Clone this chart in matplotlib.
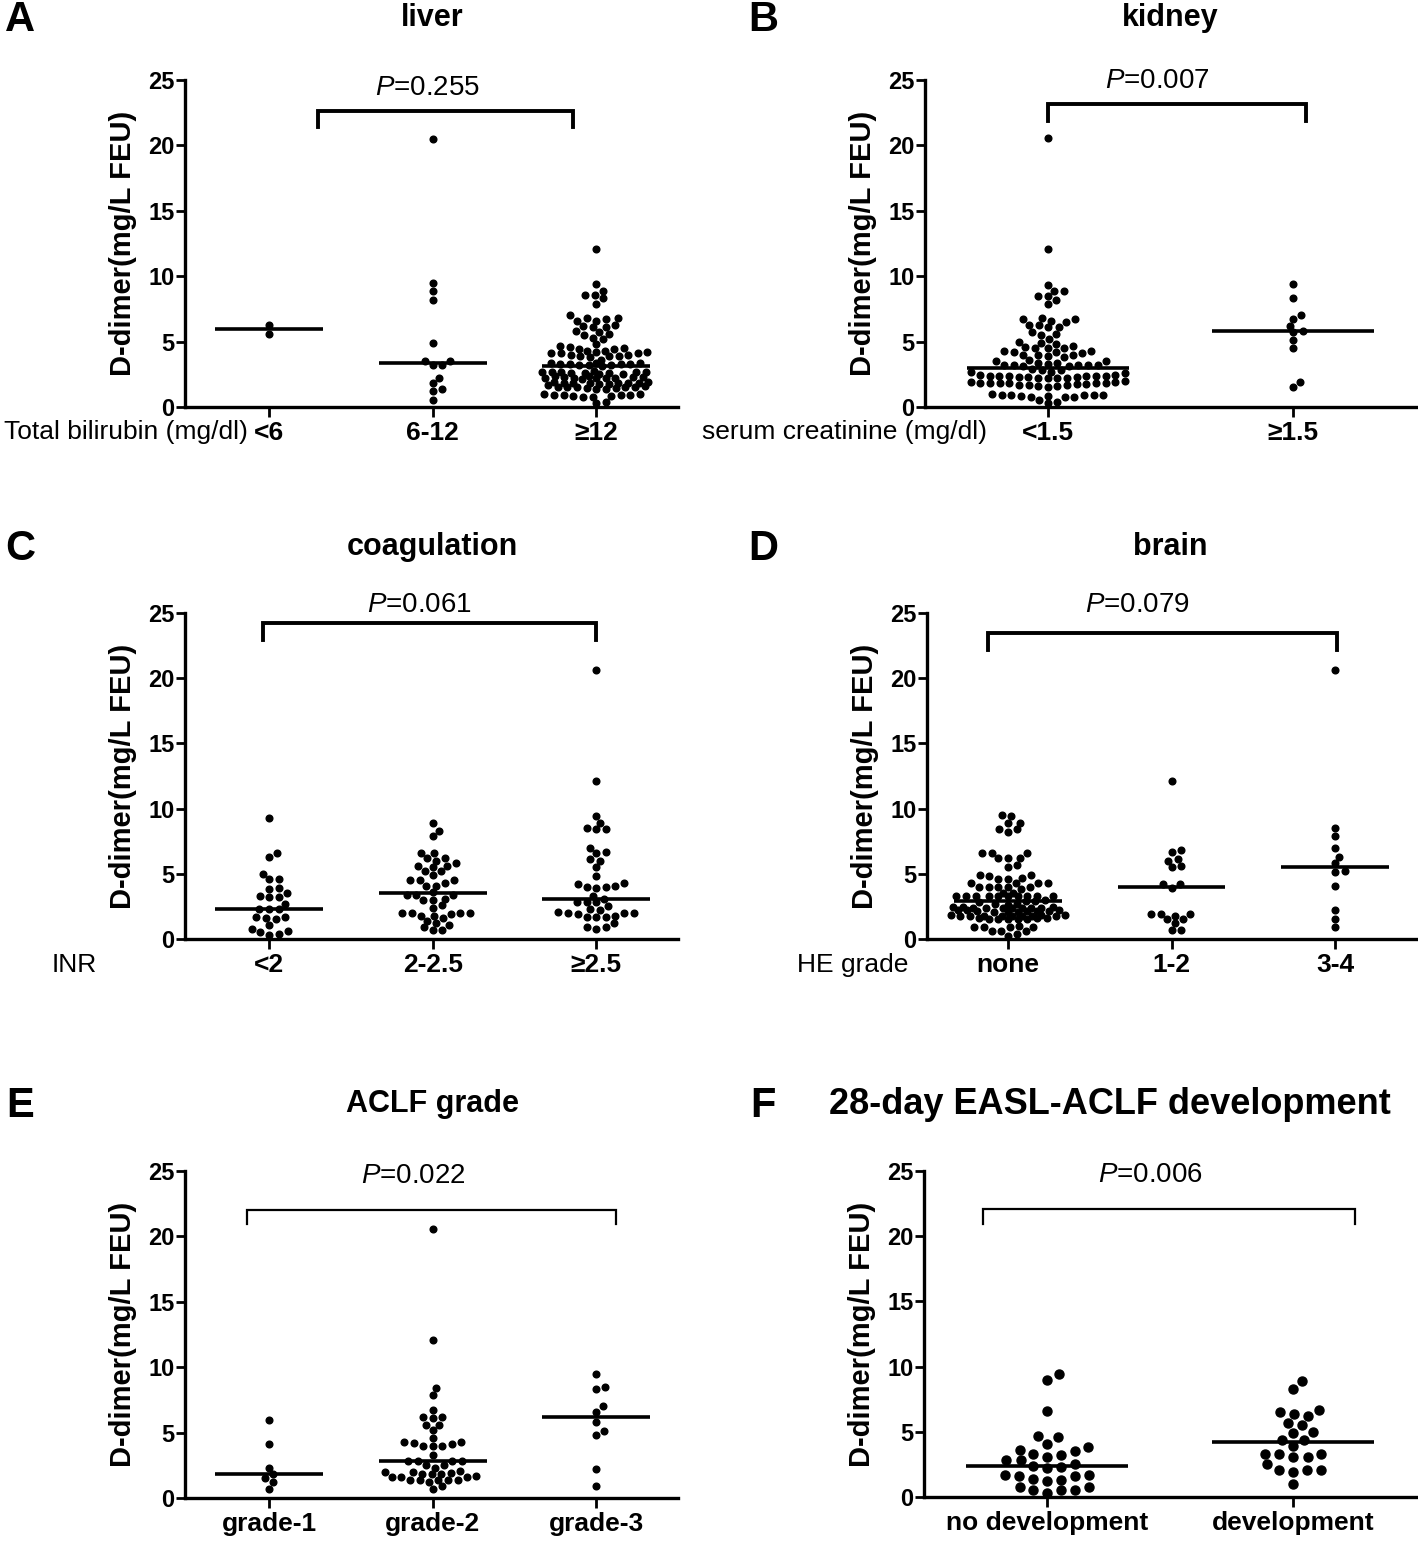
import numpy as np
import matplotlib
matplotlib.use("Agg")
import matplotlib.pyplot as plt
from matplotlib import font_manager

# ---------------------------------------------------------------- data
# D-dimer (mg/L FEU), one value per patient
liver_cats = ["<6", "6-12", "\u226512"]
liver_lo = [6.3, 5.6]
liver_mid = [20.5, 9.5, 8.9, 8.2, 4.9, 3.5, 3.5, 3.2, 3.2, 2.2, 1.8, 1.4, 1.2, 0.5]
liver_hi = [12.1, 9.4, 8.9, 8.6, 8.6, 8.3, 7.9, 7.0,
            6.8, 6.8, 6.7, 6.6, 6.6,
            6.3, 6.2, 6.1, 6.1, 5.8, 5.7, 5.6, 5.5, 5.3, 5.2,
            4.8, 4.7, 4.6, 4.5, 4.4, 4.4, 4.3, 4.3,
            4.2, 4.2, 4.1, 4.1, 4.1, 4.0, 4.0, 3.9, 3.9, 3.9, 3.8, 3.6,
            3.4, 3.4, 3.4, 3.3, 3.3, 3.3, 3.3, 3.2, 3.2, 3.2, 3.1,
            2.75, 2.7, 2.7, 2.7, 2.65, 2.65, 2.6, 2.6, 2.6, 2.55, 2.55,
            2.35, 2.35, 2.3, 2.3, 2.3, 2.25, 2.25, 2.2, 2.2, 2.2, 2.15,
            1.9, 1.9, 1.85, 1.85, 1.85, 1.8, 1.8, 1.8, 1.75, 1.75, 1.7,
            1.6, 1.55, 1.55, 1.5, 1.5, 1.5, 1.45, 1.45, 1.4, 1.4,
            1.0, 1.0, 0.95, 0.95, 0.9, 0.9, 0.85, 0.85, 0.8, 0.8,
            0.4, 0.3]
liver_med = [6.0, 3.35, 3.1]

kidney_cats = ["<1.5", "\u22651.5"]
kidney_lo = [20.6, 12.1,
             9.3, 8.9, 8.9, 8.5, 8.5, 8.2, 7.9,
             6.8, 6.7, 6.7, 6.6, 6.5, 6.3, 6.3, 6.1, 6.1,
             5.7, 5.6, 5.5, 5.2,
             5.0, 4.9, 4.8, 4.7, 4.6, 4.5, 4.5, 4.5,
             4.3, 4.3, 4.2, 4.2, 4.1, 4.0, 4.0, 4.0, 3.9, 3.8, 3.6,
             3.5, 3.5, 3.4, 3.4, 3.3, 3.2, 3.2, 3.2, 3.2, 3.2, 3.1, 3.1,
             2.9, 2.8, 2.8, 2.7, 2.7, 2.6,
             2.45, 2.45, 2.4, 2.4, 2.4, 2.35, 2.35, 2.35, 2.3, 2.3, 2.3, 2.25, 2.25, 2.25, 2.2,
             1.95, 1.9, 1.9, 1.85, 1.85, 1.85, 1.8, 1.8, 1.8, 1.75, 1.75, 1.7, 1.7, 1.65, 1.6, 1.6, 1.55,
             1.0, 0.95, 0.95, 0.9, 0.9, 0.9, 0.85, 0.85, 0.8, 0.8, 0.75,
             0.5, 0.4, 0.3]
kidney_hi = [9.4, 8.3, 7.0, 6.7, 6.2, 5.8, 5.7, 5.1, 4.5, 1.9, 1.5]
kidney_med = [3.0, 5.8]

coag_cats = ["<2", "2-2.5", "\u22652.5"]
coag_lo = [9.3, 6.6, 6.3, 5.0, 4.6, 4.6, 3.9, 3.8, 3.5, 3.3, 3.2, 3.2, 2.7,
           2.3, 2.3, 2.3, 1.7, 1.7, 1.6, 1.5, 1.1, 0.8, 0.6, 0.5, 0.4, 0.3]
coag_mid = [8.9, 8.3, 7.9, 6.6, 6.6, 6.2, 6.2, 6.0, 5.8, 5.6, 5.6, 5.5, 5.2, 5.2, 4.9,
            4.5, 4.5, 4.5, 4.3, 4.1, 4.1, 3.6, 3.4, 3.4, 3.4, 3.1, 3.0, 3.0,
            2.6, 2.4, 2.0, 2.0, 2.0, 2.0, 1.9, 1.8, 1.8, 1.6, 1.4, 1.2, 1.1, 0.9, 0.7, 0.7]
coag_hi = [20.6, 12.1, 9.4, 8.9, 8.5, 8.4, 8.4, 7.0, 6.7, 6.6, 6.1, 6.0, 5.5,
           4.8, 4.3, 4.2, 4.1, 4.0, 4.0, 3.9, 3.3, 3.1, 2.8, 2.8, 2.8, 2.5,
           2.3, 2.2, 2.1, 2.0, 2.0, 2.0, 1.9, 1.8, 1.7, 1.7, 1.7, 1.2, 0.95, 0.9, 0.8]
coag_med = [2.3, 3.5, 3.1]

brain_cats = ["none", "1-2", "3-4"]
brain_none = [9.5, 9.4, 8.9, 8.9, 8.4, 8.4, 8.2,
              6.6, 6.6, 6.6, 6.2, 6.2, 6.2, 5.7, 5.5,
              4.9, 4.9, 4.8, 4.7, 4.6, 4.6, 4.3, 4.3, 4.3, 4.3, 4.0, 4.0, 4.0, 4.0, 4.0, 3.8,
              3.5, 3.5, 3.3, 3.3, 3.3, 3.3, 3.3, 3.3, 3.3, 3.3, 3.3, 3.3,
              3.0, 2.9, 2.9, 2.8, 2.7, 2.7, 2.6,
              2.45, 2.45, 2.45, 2.4, 2.4, 2.4, 2.4, 2.4, 2.35, 2.35,
              2.2, 2.2, 2.2, 2.15, 2.15, 2.15, 2.15, 2.1, 2.1, 2.1,
              1.85, 1.85, 1.85, 1.8, 1.8, 1.8, 1.8, 1.8, 1.75, 1.75, 1.75,
              1.6, 1.6, 1.6, 1.55, 1.55, 1.55, 1.5, 1.5,
              1.0, 0.95, 0.95, 0.9, 0.9,
              0.6, 0.6, 0.6, 0.4, 0.2]
brain_12 = [12.1, 6.8, 6.7, 6.1, 6.0, 5.6, 5.5, 4.2, 4.2, 3.9,
            1.9, 1.9, 1.9, 1.8, 1.5, 1.5, 1.2, 0.7, 0.7]
brain_34 = [20.6, 8.5, 7.9, 7.0, 6.3, 5.8, 5.2, 5.1, 4.1, 2.2, 1.5, 0.9]
brain_med = [2.95, 3.95, 5.5]

aclf_cats = ["grade-1", "grade-2", "grade-3"]
aclf_g1 = [6.0, 4.1, 2.3, 1.8, 1.5, 1.2, 0.7]
aclf_g2 = [20.6, 12.1, 8.4, 7.9, 6.7, 6.2, 6.2, 6.1, 5.6, 5.6, 5.2, 4.6, 4.3, 4.3, 4.2,
           4.1, 4.0, 4.0, 4.0, 3.3, 2.8, 2.8, 2.8, 2.8, 2.5, 2.5, 2.3, 2.1, 2.0, 2.0,
           1.9, 1.8, 1.8, 1.8, 1.7, 1.6, 1.6, 1.6, 1.4, 1.4, 1.4, 1.4, 1.4, 1.2, 0.9, 0.7]
aclf_g3 = [9.5, 8.5, 8.3, 7.0, 6.6, 5.8, 5.1, 4.8, 2.2, 0.9]
aclf_med = [1.85, 2.85, 6.2]

dev_cats = ["no development", "development"]
dev_no = [9.4, 9.0, 6.6, 4.7, 4.6, 4.1, 3.8, 3.6, 3.5, 3.3, 3.2, 3.1, 2.8, 2.8, 2.5, 2.4,
          2.3, 2.2, 1.7, 1.7, 1.6, 1.6, 1.4, 1.3, 1.2, 0.8, 0.8, 0.5, 0.5, 0.5, 0.3]
dev_yes = [8.9, 8.3, 6.7, 6.5, 6.4, 6.2, 5.7, 5.5, 5.0, 4.9, 4.4, 4.4, 3.9,
           3.3, 3.3, 3.3, 3.1, 3.1, 2.5, 2.1, 2.1, 2.1, 1.9, 1.0]
dev_med = [2.4, 4.2]

p_values = ["0.255", "0.007", "0.061", "0.079", "0.022", "0.006"]

# ---------------------------------------------------------------- fonts
names = {f.name for f in font_manager.fontManager.ttflist}
SANS = "Liberation Sans" if "Liberation Sans" in names else "DejaVu Sans"
NARROW = "Liberation Sans Narrow" if "Liberation Sans Narrow" in names else SANS
plt.rcParams["font.family"] = [SANS, "DejaVu Sans"]
plt.rcParams["mathtext.fontset"] = "custom"
plt.rcParams["mathtext.it"] = NARROW + ":italic"
plt.rcParams["mathtext.rm"] = NARROW

W, H = 1418, 1541
fig = plt.figure(figsize=(W / 100, H / 100), dpi=100)


def ftext(x, y, s, **kw):
    fig.text(x / W, 1 - y / H, s, **kw)


def need(dy, fp):
    dx_min, dy_min, d_min = fp
    r = 0.0
    if abs(dy) < dy_min:
        r = dx_min * np.sqrt(1 - (dy / dy_min) ** 2)
    if abs(dy) < d_min:
        r = max(r, np.sqrt(d_min ** 2 - dy ** 2))
    return r


def best_spot(y, placed, fp):
    near = [(px, need(py - y, fp)) for px, py in placed]
    near = [(px, r) for px, r in near if r > 0]
    cands = [0.0]
    for px, r in near:
        cands += [px + r, px - r]
    cands.sort(key=lambda c: (round(abs(c), 6), -c))
    for c in cands:
        if all(abs(c - px) >= r - 1e-6 for px, r in near):
            return c
    return 0.0


def swarm(vals, loose, tight, cap, sx, sy):
    # beeswarm: loose footprint while the row stays within the column width,
    # tighter (staggered) footprint where the points are crowded
    vals = np.asarray(vals, float)
    ys = vals * sy
    xs = np.zeros(len(vals))
    placed = []
    for i in np.argsort(vals, kind="stable"):
        c = best_spot(ys[i], placed, loose)
        if abs(c) > cap:
            c = best_spot(ys[i], placed, tight)
        xs[i] = c
        placed.append((c, ys[i]))
    return xs / sx


def panel(box, groups, meds, cats, xlim, pval, ptxt_xy, bracket, blw, ms, fps, caps):
    left, top, right, bottom = box
    ax = fig.add_axes([left / W, 1 - bottom / H, (right - left) / W, (bottom - top) / H])
    ax.set_xlim(*xlim)
    ax.set_ylim(0, 25)
    sx = (right - left) / (xlim[1] - xlim[0])
    sy = (bottom - top) / 25.0
    for i, vals in enumerate(groups):
        off = swarm(vals, fps[0], fps[1], caps[i], sx, sy)
        ax.plot(i + off, vals, "o", ms=ms, color="black", ls="none", clip_on=False, zorder=3)
        ax.hlines(meds[i], i - 0.33, i + 0.33, color="black", lw=2.6, zorder=4)
    x0, x1, yb, yt = bracket
    ax.plot([x0, x0, x1, x1], [yb, yt, yt, yb], color="black", lw=blw,
            solid_joinstyle="miter", clip_on=False)
    ax.text(ptxt_xy[0], ptxt_xy[1], "$P$=" + pval, ha="center", va="center",
            fontsize=20, family=NARROW)
    for s in ["top", "right"]:
        ax.spines[s].set_visible(False)
    for s in ["left", "bottom"]:
        ax.spines[s].set_linewidth(2.4)
    ax.set_yticks([0, 5, 10, 15, 20, 25])
    ax.set_yticklabels(["0", "5", "10", "15", "20", "25"], family=NARROW,
                       fontweight="bold", fontsize=17)
    ax.set_xticks(range(len(cats)))
    ax.set_xticklabels(cats, family=[NARROW, "DejaVu Sans"], fontweight="bold", fontsize=19)
    ax.tick_params(axis="y", width=2, length=6.5, pad=1)
    ax.tick_params(axis="x", width=2, length=7, pad=3)
    ax.patch.set_alpha(0)
    ftext(left - 62, (top + bottom) / 2, "D-dimer(mg/L FEU)", rotation=90, ha="center",
          va="center", fontsize=21, fontweight="bold")
    return ax


L3 = (-0.514, 2.50)
L2 = (-0.50, 1.50)
# dot footprints in px: (x spacing, y reach, min distance) loose / tight
SMALL = [(9.7, 7.0, 6.8), (9.7, 3.0, 5.4)]
BIG = [(14.5, 10.0, 9.6), (14.5, 4.5, 8.2)]

panel((185, 80, 678, 407), [liver_lo, liver_mid, liver_hi], liver_med, liver_cats, L3,
      p_values[0], (0.97, 24.4), (0.30, 1.86, 21.4, 22.6), 2.8, 4.8, SMALL, [50, 50, 52])
panel((925, 80, 1416, 407), [kidney_lo, kidney_hi], kidney_med, kidney_cats, L2,
      p_values[1], (0.445, 24.9), (0.0, 1.05, 21.9, 23.2), 2.8, 4.8, SMALL, [78, 50])
panel((185, 613, 678, 939), [coag_lo, coag_mid, coag_hi], coag_med, coag_cats, L3,
      p_values[2], (0.92, 25.6), (-0.04, 2.0, 22.9, 24.2), 2.8, 4.8, SMALL, [32, 44, 48])
panel((927, 613, 1416, 939), [brain_none, brain_12, brain_34], brain_med, brain_cats,
      (-0.495, 2.495), p_values[3], (0.79, 25.6), (-0.12, 2.01, 22.2, 23.5), 2.8, 4.8,
      SMALL, [52, 40, 30])
panel((185, 1171, 678, 1498), [aclf_g1, aclf_g2, aclf_g3], aclf_med, aclf_cats, L3,
      p_values[4], (0.88, 24.6), (-0.135, 2.12, 20.95, 22.0), 1.6, 4.8, SMALL, [30, 49, 30])
panel((924, 1171, 1416, 1497), [dev_no, dev_yes], dev_med, dev_cats, L2,
      p_values[5], (0.42, 24.7), (-0.26, 1.25, 20.9, 22.1), 1.6, 6.5, BIG, [60, 40])

# panel letters and titles
for x, y, s in [(20, 20, "A"), (763, 20, "B"), (20, 549, "C"), (763, 549, "D"),
                (20, 1106, "E"), (763, 1106, "F")]:
    ftext(x, y, s, ha="center", va="center", fontsize=30, fontweight="bold")
for x, y, s, fs in [(432, 18, "liver", 22), (1170, 18, "kidney", 22),
                    (432, 547, "coagulation", 22), (1170, 547, "brain", 22),
                    (432, 1104, "ACLF grade", 22),
                    (1110, 1104, "28-day EASL-ACLF development", 26)]:
    ftext(x, y, s, ha="center", va="center", fontsize=fs, fontweight="bold")

# row captions left of the category labels
ftext(248, 432, "Total bilirubin (mg/dl)", ha="right", va="center", fontsize=19, family=NARROW)
ftext(987, 432, "serum creatinine (mg/dl)", ha="right", va="center", fontsize=19, family=NARROW)
ftext(52, 965, "INR", ha="left", va="center", fontsize=19, family=NARROW)
ftext(797, 965, "HE grade", ha="left", va="center", fontsize=19, family=NARROW)

fig.savefig("out.png", dpi=100, facecolor="white")
